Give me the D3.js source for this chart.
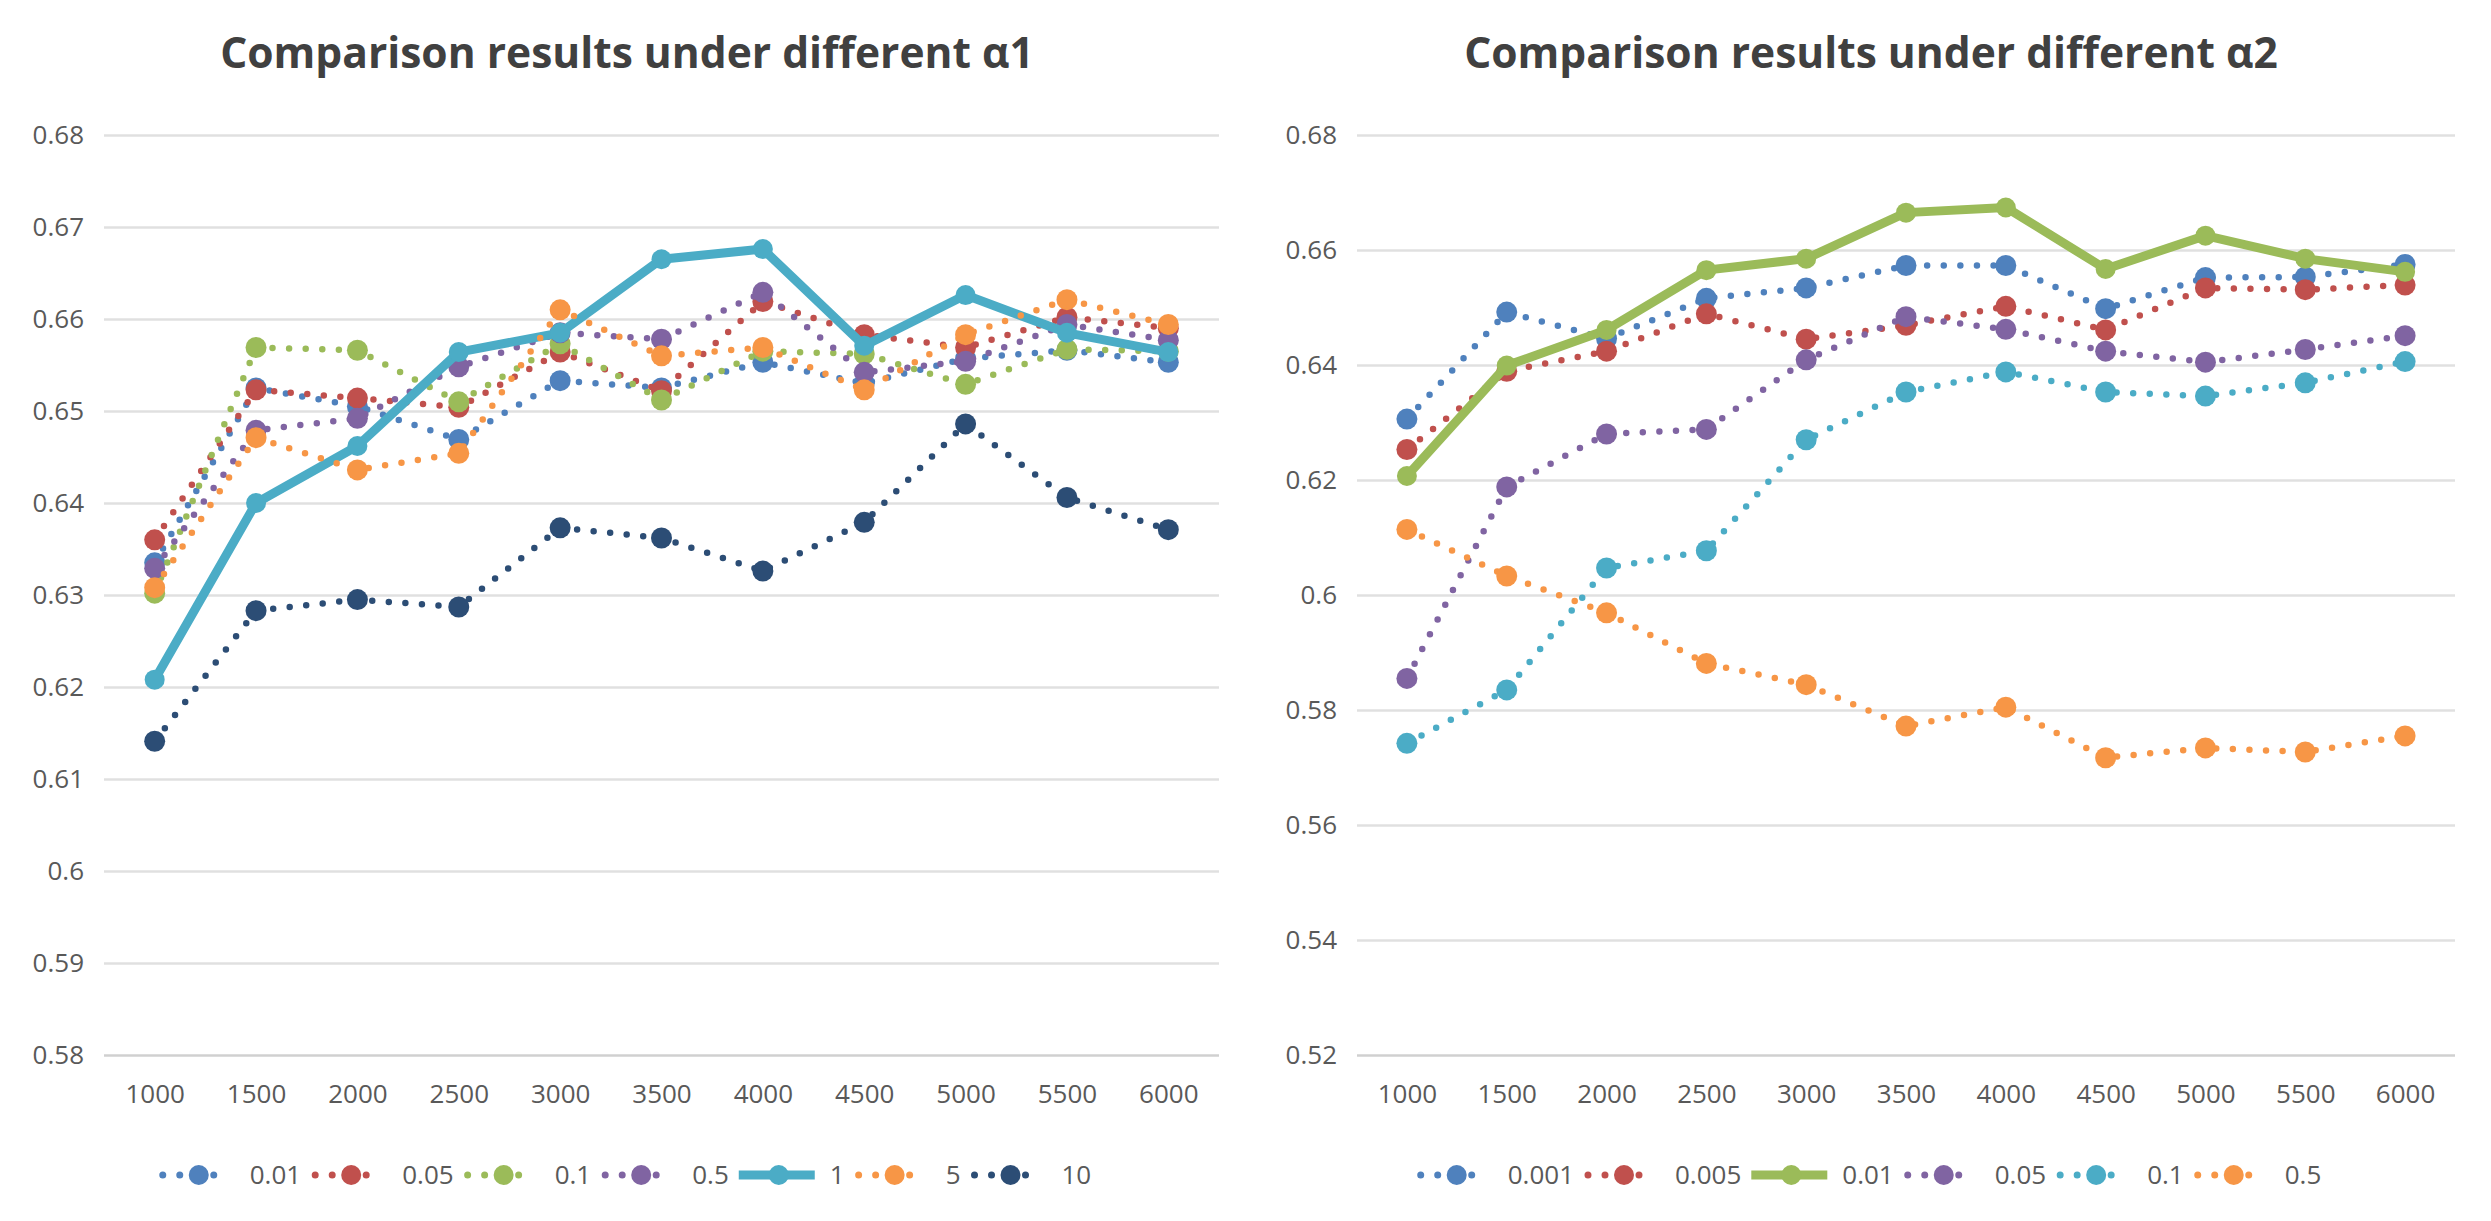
<!DOCTYPE html>
<html>
  <head>
    <meta charset="utf-8" />
    <title>Comparison results</title>
    <script src="https://cdn.jsdelivr.net/npm/d3@7/dist/d3.min.js"></script>
    <style>
      body { margin: 0; background: #fff; }
      text { font-family: "Open Sans", Lato, sans-serif; fill: #595959; }
    </style>
  </head>
  <body>
    <div id="canvas"></div>
  </body>
  <script>
    // x categories (sample counts)
    const xLabels = ["1000", "1500", "2000", "2500", "3000", "3500", "4000", "4500", "5000", "5500", "6000"];

    // left chart: different alpha1
    const alpha1Names = ["0.01", "0.05", "0.1", "0.5", "1", "5", "10"];
    const a1_001 = [0.6335, 0.6525, 0.6505, 0.6469, 0.6533, 0.6525, 0.6553, 0.6530, 0.6557, 0.6566, 0.6553];
    const a1_005 = [0.6360, 0.6523, 0.6514, 0.6504, 0.6564, 0.6522, 0.6619, 0.6583, 0.6569, 0.6602, 0.6590];
    const a1_01 = [0.6302, 0.6569, 0.6566, 0.6510, 0.6573, 0.6512, 0.6565, 0.6562, 0.6529, 0.6567, 0.6565];
    const a1_05 = [0.6329, 0.6479, 0.6492, 0.6548, 0.6585, 0.6578, 0.6629, 0.6542, 0.6554, 0.6594, 0.6577];
    const a1_1 = [0.6208, 0.6400, 0.6462, 0.6564, 0.6585, 0.6665, 0.6676, 0.6571, 0.6626, 0.6585, 0.6564];
    const a1_5 = [0.6308, 0.6471, 0.6436, 0.6454, 0.6610, 0.6560, 0.6569, 0.6523, 0.6583, 0.6621, 0.6594];
    const a1_10 = [0.6141, 0.6283, 0.6295, 0.6287, 0.6373, 0.6362, 0.6326, 0.6379, 0.6486, 0.6406, 0.6371];
    const alpha1Ticks = [0.58, 0.59, 0.6, 0.61, 0.62, 0.63, 0.64, 0.65, 0.66, 0.67, 0.68];

    // right chart: different alpha2
    const alpha2Names = ["0.001", "0.005", "0.01", "0.05", "0.1", "0.5"];
    const a2_0001 = [0.6306, 0.6492, 0.6446, 0.6516, 0.6534, 0.6573, 0.6573, 0.6498, 0.6552, 0.6553, 0.6575];
    const a2_0005 = [0.6253, 0.6389, 0.6424, 0.6489, 0.6445, 0.6469, 0.6502, 0.6461, 0.6534, 0.6531, 0.6539];
    const a2_001 = [0.6207, 0.6399, 0.6461, 0.6565, 0.6585, 0.6665, 0.6674, 0.6567, 0.6625, 0.6585, 0.6562];
    const a2_005 = [0.5855, 0.6188, 0.6280, 0.6288, 0.6409, 0.6484, 0.6462, 0.6424, 0.6405, 0.6427, 0.6451];
    const a2_01 = [0.5742, 0.5835, 0.6047, 0.6077, 0.6270, 0.6353, 0.6388, 0.6353, 0.6346, 0.6369, 0.6406];
    const a2_05 = [0.6114, 0.6033, 0.5969, 0.5881, 0.5844, 0.5772, 0.5805, 0.5717, 0.5734, 0.5727, 0.5755];
    const alpha2Ticks = [0.52, 0.54, 0.56, 0.58, 0.6, 0.62, 0.64, 0.66, 0.68];

    const blue = "#4f81bd", red = "#c0504d", green = "#9bbb59", purple = "#8064a2",
      aqua = "#4bacc6", orange = "#f79646", navy = "#2c4d75";

    const width = 2491;
    const height = 1221;

    const svg = d3
      .create("svg")
      .attr("width", width)
      .attr("height", height)
      .attr("viewBox", [0, 0, width, height]);

    // attach first so text can be measured
    canvas.append(svg.node());

    drawChart({
      title: "Comparison results under different α1",
      center: 627,
      left: 104, right: 1219, top: 135, bottom: 1055,
      ticks: alpha1Ticks,
      names: alpha1Names,
      values: [a1_001, a1_005, a1_01, a1_05, a1_1, a1_5, a1_10],
      colors: [blue, red, green, purple, aqua, orange, navy],
      solid: "1",
    });

    drawChart({
      title: "Comparison results under different α2",
      center: 1871,
      left: 1357, right: 2455, top: 135, bottom: 1055,
      ticks: alpha2Ticks,
      names: alpha2Names,
      values: [a2_0001, a2_0005, a2_001, a2_005, a2_01, a2_05],
      colors: [blue, red, green, purple, aqua, orange],
      solid: "0.01",
    });

    function drawChart(c) {
      const g = svg.append("g");

      const x = d3.scalePoint().domain(xLabels).range([c.left, c.right]).padding(0.5);
      const y = d3
        .scaleLinear()
        .domain([c.ticks[0], c.ticks[c.ticks.length - 1]])
        .range([c.bottom, c.top]);

      // title, sized to the reference width (~814px)
      const title = g.append("text")
        .attr("x", c.center)
        .attr("y", 68)
        .attr("text-anchor", "middle")
        .style("font-size", "38px")
        .style("font-weight", "bold")
        .style("fill", "#404040")
        .text(c.title);
      const tw = title.node().getComputedTextLength();
      if (tw > 0) title.style("font-size", (38 * 814) / tw + "px");

      // gridlines + y labels
      const yAxis = g
        .append("g")
        .attr("transform", `translate(${c.left},0)`)
        .call(
          d3.axisLeft(y)
            .tickValues(c.ticks)
            .tickSize(-(c.right - c.left))
            .tickPadding(20)
            .tickFormat(d3.format("~g"))
        );
      yAxis.select(".domain").remove();
      yAxis.selectAll(".tick line")
        .attr("stroke", (d, i) => (i === 0 ? "#d0d0d0" : "#e0e0e0"))
        .attr("stroke-width", 2.5);
      yAxis.selectAll(".tick text").style("font-size", "26px").attr("fill", "#595959");

      // x labels
      const xAxis = g
        .append("g")
        .attr("transform", `translate(0,${c.bottom})`)
        .call(d3.axisBottom(x).tickSize(0).tickPadding(30));
      xAxis.select(".domain").remove();
      xAxis.selectAll(".tick text").style("font-size", "26px").attr("fill", "#595959");

      const line = d3
        .line()
        .x((d, i) => x(xLabels[i]))
        .y((d) => y(d));

      // series
      c.values.forEach((vals, k) => {
        const isSolid = c.names[k] === c.solid;
        const s = g.append("g");
        s.append("path")
          .datum(vals)
          .attr("fill", "none")
          .attr("stroke", c.colors[k])
          .attr("stroke-width", isSolid ? 9 : 6.5)
          .attr("stroke-linecap", "round")
          .attr("stroke-linejoin", "round")
          .attr("stroke-dasharray", isSolid ? null : "0 16.6")
          .attr("d", line);
        s.selectAll("circle")
          .data(vals)
          .join("circle")
          .attr("cx", (d, i) => x(xLabels[i]))
          .attr("cy", (d) => y(d))
          .attr("r", isSolid ? 10 : 10.5)
          .attr("fill", c.colors[k]);
      });

      // legend
      const legend = g.append("g");
      let cursor = 0;
      c.names.forEach((name, k) => {
        const isSolid = name === c.solid;
        const item = legend.append("g").attr("transform", `translate(${cursor},0)`);
        item.append("line")
          .attr("x1", isSolid ? -4 : 0).attr("x2", isSolid ? 72 : 68)
          .attr("stroke", c.colors[k])
          .attr("stroke-width", isSolid ? 9 : 7)
          .attr("stroke-linecap", isSolid ? "butt" : "round")
          .attr("stroke-dasharray", isSolid ? null : "0 17");
        item.append("circle")
          .attr("cx", 36)
          .attr("r", 10)
          .attr("fill", c.colors[k]);
        const t = item.append("text")
          .attr("x", 87)
          .attr("dy", "0.35em")
          .style("font-size", "26px")
          .text(name);
        cursor += 87 + t.node().getComputedTextLength() + 14;
      });
      const lw = cursor - 14;
      legend.attr("transform", `translate(${c.center - lw / 2},1175)`);
    }
  </script>
</html>
